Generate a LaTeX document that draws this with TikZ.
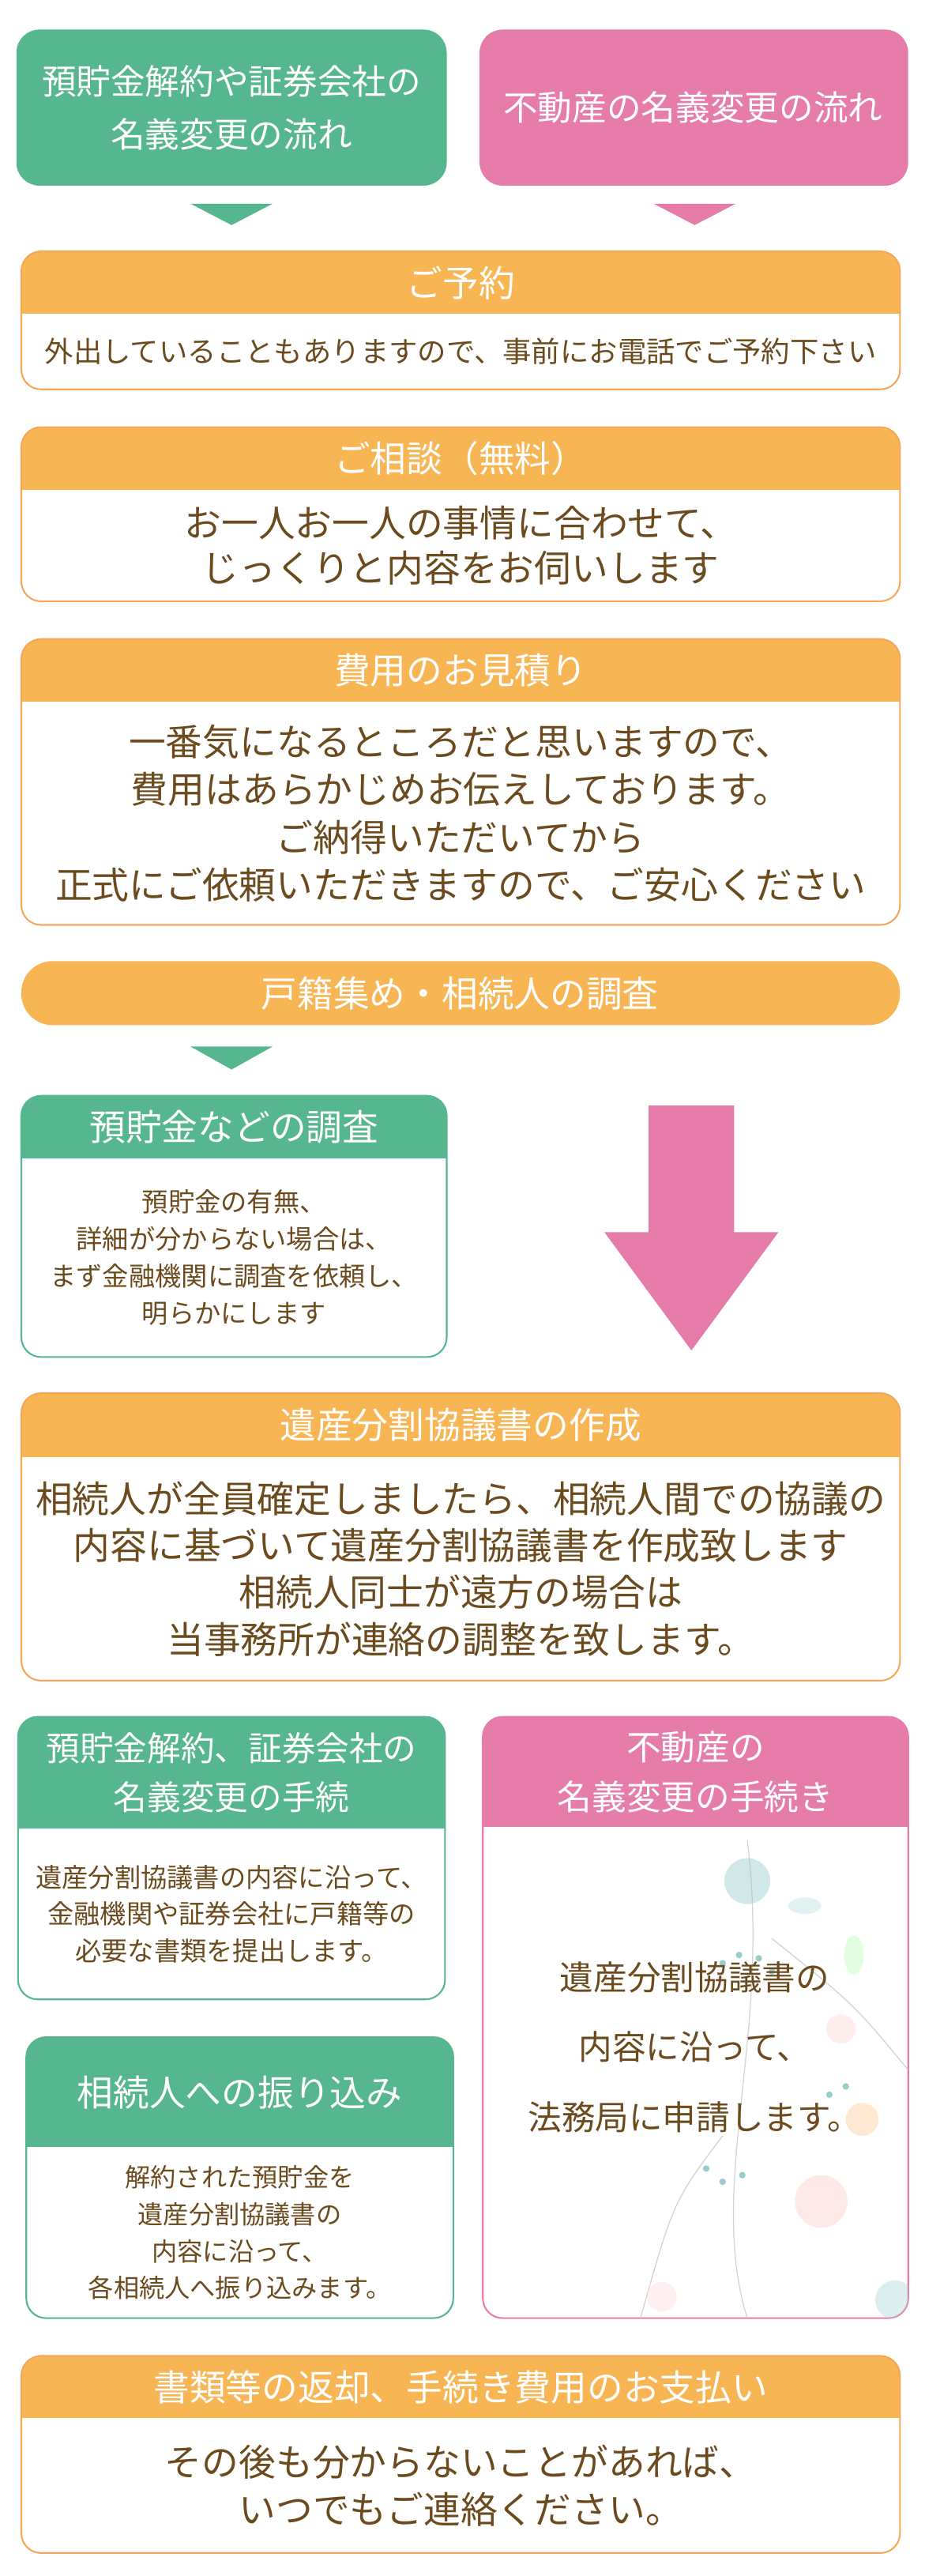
\documentclass[tikz,border=0pt]{standalone}
\usepackage{fontspec}
\setmainfont{Noto Sans CJK JP}
\usetikzlibrary{calc, positioning}
\definecolor{orangeHd}{HTML}{F8B554}
\definecolor{orangeLn}{HTML}{F5A65B}
\definecolor{greenHd}{HTML}{55B690}
\definecolor{pinkHd}{HTML}{E57CAA}
\definecolor{brownTx}{HTML}{6B4A1E}

% card: name, left, right, top, header bottom, bottom, header colour, line colour
\newcommand\stepcard[8]{%
  \begin{scope}
    \clip[rounded corners=12pt] (#2,#4) rectangle (#3,#6);
    \fill[#7] (#2,#4) rectangle (#3,#5);
  \end{scope}
  \draw[#8, line width=1pt, rounded corners=12pt] (#2,#4) rectangle (#3,#6);
  \coordinate (#1h) at ($(#2,#4)!.5!(#3,#5)$);
  \coordinate (#1b) at ($(#2,#5)!.5!(#3,#6)$);
}

\tikzset{
  hdtext/.style={text=white, font=\fontsize{22}{26}\selectfont, align=center},
  bigtext/.style={text=brownTx, font=\fontsize{22.5}{29}\selectfont, align=center},
  smalltext/.style={text=brownTx, font=\fontsize{16}{22.5}\selectfont, align=center},
  petal/.style={fill=#1, opacity=.45},
}

\begin{document}
\begin{tikzpicture}[x=1pt, y=-1pt]
  \useasboundingbox (0,0) rectangle (563,1568);

  % top titles
  \fill[greenHd, rounded corners=14pt] (10,18) rectangle (272,113);
  \node[hdtext, font=\fontsize{21}{32}\selectfont] (tl) at (141,65.5) {預貯金解約や証券会社の\\名義変更の流れ};
  \fill[pinkHd, rounded corners=14pt] (292,18) rectangle (553,113);
  \node[hdtext, font=\fontsize{21}{32}\selectfont] (tr) at (422,65.5) {不動産の名義変更の流れ};
  \fill[greenHd] (116,124) -- (166,124) -- (141,137) -- cycle;
  \fill[pinkHd] (398,124) -- (448,124) -- (423,137) -- cycle;

  % reservation
  \stepcard{c1}{13}{548}{153}{191}{237}{orangeHd}{orangeLn}
  \node[hdtext] (c1t) at (c1h) {ご予約};
  \node[smalltext, font=\fontsize{17.5}{20}\selectfont] (c1x) at (c1b) {外出していることもありますので、事前にお電話でご予約下さい};

  % consultation
  \stepcard{c2}{13}{548}{260}{298}{366}{orangeHd}{orangeLn}
  \node[hdtext] (c2t) at (c2h) {ご相談（無料）};
  \node[bigtext, font=\fontsize{22.5}{27}\selectfont] (c2x) at (c2b) {お一人お一人の事情に合わせて、\\じっくりと内容をお伺いします};

  % estimate
  \stepcard{c3}{13}{548}{389}{427}{563}{orangeHd}{orangeLn}
  \node[hdtext] (c3t) at (c3h) {費用のお見積り};
  \node[bigtext] (c3x) at (c3b) {一番気になるところだと思いますので、\\費用はあらかじめお伝えしております。\\ご納得いただいてから\\正式にご依頼いただきますので、ご安心ください};

  % pill
  \fill[orangeHd, rounded corners=19pt] (13,585) rectangle (548,624);
  \node[hdtext] (pill) at (280,604.5) {戸籍集め・相続人の調査};
  \fill[greenHd] (116,637) -- (166,637) -- (141,651) -- cycle;

  % deposit research
  \stepcard{c4}{13}{272}{667}{705}{826}{greenHd}{greenHd}
  \node[hdtext, font=\fontsize{22}{26}\selectfont] (c4t) at (c4h) {預貯金などの調査};
  \node[smalltext] (c4x) at (c4b) {預貯金の有無、\\詳細が分からない場合は、\\まず金融機関に調査を依頼し、\\明らかにします};

  % big arrow
  \fill[pinkHd] (395,673) -- (447,673) -- (447,750) -- (474,750) -- (421,822)
    -- (368,750) -- (395,750) -- cycle;

  % agreement
  \stepcard{c5}{13}{548}{848}{887}{1023}{orangeHd}{orangeLn}
  \node[hdtext] (c5t) at (c5h) {遺産分割協議書の作成};
  \node[bigtext, font=\fontsize{22.5}{28.5}\selectfont] (c5x) at (c5b) {相続人が全員確定しましたら、相続人間での協議の\\内容に基づいて遺産分割協議書を作成致します\\相続人同士が遠方の場合は\\当事務所が連絡の調整を致します。};

  % deposit transfer procedure
  \stepcard{c6}{11}{271}{1045}{1113}{1217}{greenHd}{greenHd}
  \node[hdtext, font=\fontsize{20.5}{30}\selectfont] (c6t) at (c6h) {預貯金解約、証券会社の\\名義変更の手続};
  \node[smalltext] (c6x) at (c6b) {遺産分割協議書の内容に沿って、\\金融機関や証券会社に戸籍等の\\必要な書類を提出します。};

  % real estate procedure
  \stepcard{c7}{294}{553}{1045}{1112}{1411}{pinkHd}{pinkHd}
  \node[hdtext, font=\fontsize{21}{30}\selectfont] (c7t) at (c7h) {不動産の\\名義変更の手続き};
  % faint flowers
  \begin{scope}
    \clip[rounded corners=12pt] (294,1112) rectangle (553,1411);
    \draw[gray!35, line width=.6pt] (455,1120) .. controls (470,1240) and (430,1330) .. (455,1411);
    \draw[gray!35, line width=.6pt] (470,1180) .. controls (520,1220) .. (553,1260);
    \draw[gray!35, line width=.6pt] (440,1300) .. controls (410,1340) .. (390,1411);
    \fill[petal=teal!40] (455,1145) circle (14pt);
    \fill[petal=pink!80] (500,1340) circle (16pt);
    \fill[petal=orange!40] (525,1290) circle (10pt);
    \fill[petal=pink!60] (512,1235) circle (9pt);
    \fill[petal=green!25] (520,1190) ellipse (6pt and 12pt);
    \fill[petal=teal!25] (490,1160) ellipse (10pt and 5pt);
    \fill[petal=pink!50] (403,1398) circle (9pt);
    \fill[petal=teal!30] (545,1400) circle (12pt);
    \foreach \dx/\dy in {440/1195,450/1190,462/1192,470/1200,430/1320,440/1328,452/1324,505/1275,515/1270}
      \fill[teal!40] (\dx,\dy) circle (2pt);
  \end{scope}
  \node[bigtext, font=\fontsize{20.5}{42.5}\selectfont] (c7x) at (423,1246) {遺産分割協議書の\\内容に沿って、\\法務局に申請します。};

  % transfer to heirs
  \stepcard{c8}{16}{276}{1240}{1307}{1411}{greenHd}{greenHd}
  \node[hdtext] (c8t) at (c8h) {相続人への振り込み};
  \node[smalltext, font=\fontsize{15.5}{22.5}\selectfont] (c8x) at (c8b) {解約された預貯金を\\遺産分割協議書の\\内容に沿って、\\各相続人へ振り込みます。};

  % return and payment
  \stepcard{c9}{13}{548}{1434}{1472}{1554}{orangeHd}{orangeLn}
  \node[hdtext] (c9t) at (c9h) {書類等の返却、手続き費用のお支払い};
  \node[bigtext, font=\fontsize{22.5}{29}\selectfont] (c9x) at (c9b) {その後も分からないことがあれば、\\いつでもご連絡ください。};
\end{tikzpicture}
\end{document}
